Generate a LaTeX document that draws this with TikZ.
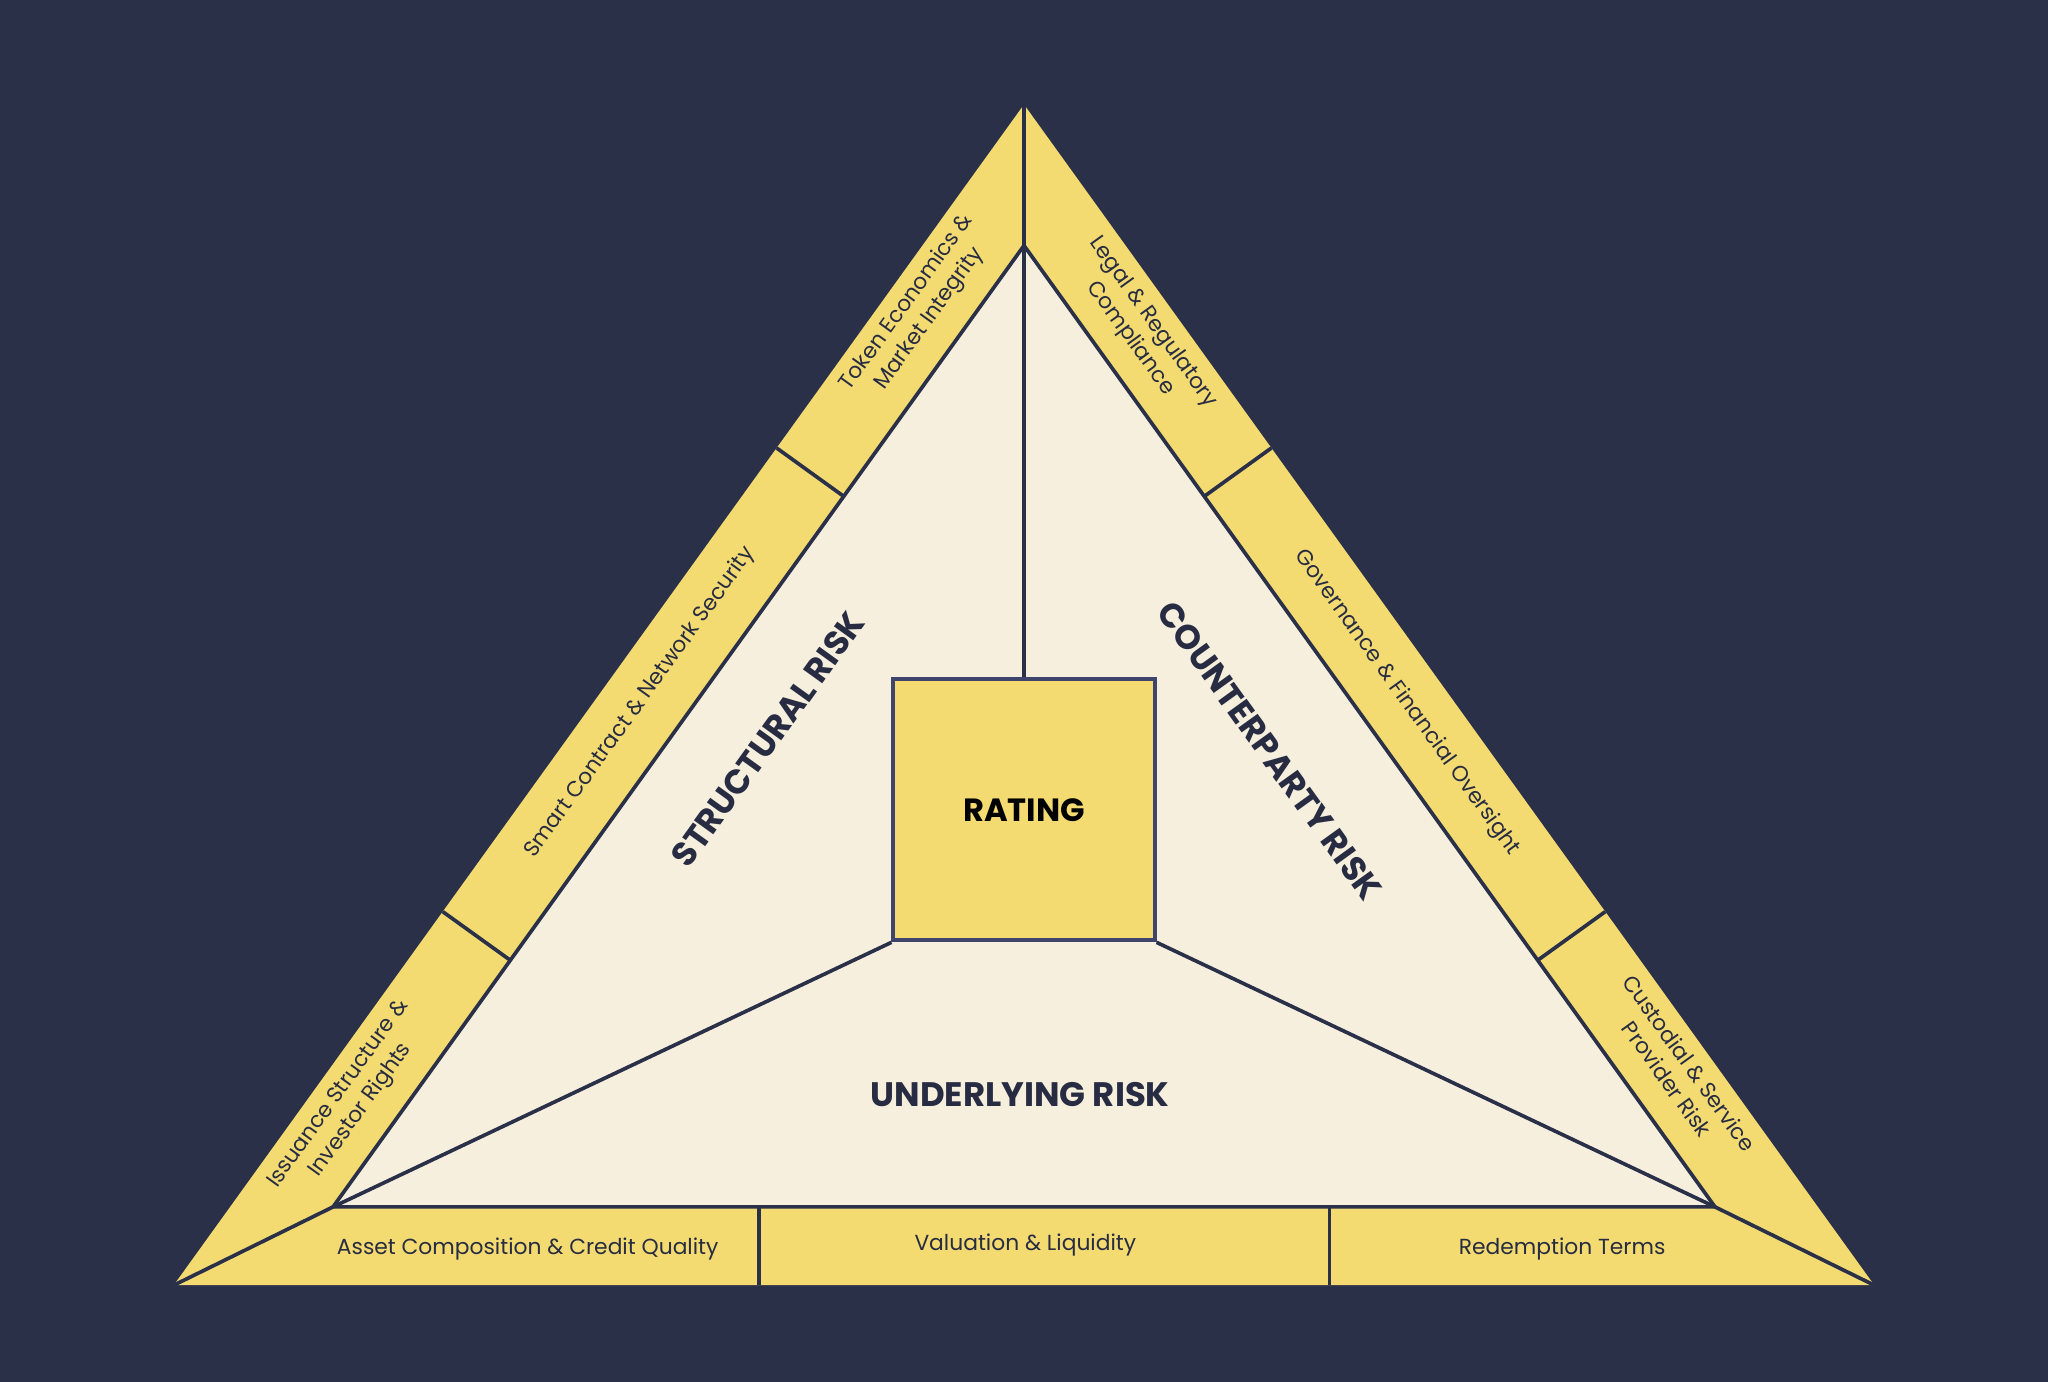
\documentclass[tikz,border=0pt]{standalone}
\usepackage{fontspec}
\setmainfont{Poppins}
\usetikzlibrary{calc,positioning}
\definecolor{RiskNavy}{RGB}{43,48,73}
\definecolor{RiskYellow}{RGB}{243,219,113}
\definecolor{RiskCream}{RGB}{246,239,222}
\definecolor{RiskInk}{RGB}{40,44,66}
\definecolor{RiskBorder}{RGB}{62,68,108}

\begin{document}
\begin{tikzpicture}[x=0.02cm,y=-0.02cm,
  edge/.style={draw=RiskNavy,line width=1.6pt,line join=miter},
  bandlbl/.style={text=RiskInk,font=\fontsize{9.5}{12}\selectfont,align=center,inner sep=0pt},
  risklbl/.style={text=RiskInk,font=\fontsize{14.8}{16}\selectfont\bfseries,inner sep=0pt}]
  \fill[RiskNavy] (0,0) rectangle (1568,1058);
  \useasboundingbox (0,0) rectangle (1568,1058);
  \coordinate (A) at (784,80);
  \coordinate (B) at (133,984);
  \coordinate (C) at (1435,984);
  \coordinate (a) at (784,188);
  \coordinate (b) at (255,924);
  \coordinate (c) at (1313,924);
  \coordinate (l1o) at (594.6,343);
  \coordinate (l1i) at (646.5,380.4);
  \coordinate (l2o) at (339,698);
  \coordinate (l2i) at (391,735.4);
  \coordinate (r1o) at (973.4,343);
  \coordinate (r1i) at (921.5,380.4);
  \coordinate (r2o) at (1229,698);
  \coordinate (r2i) at (1177,735.4);
  \coordinate (d1t) at (581,924);
  \coordinate (d1b) at (581,984);
  \coordinate (d2t) at (1018,924);
  \coordinate (d2b) at (1018,984);
  \fill[RiskYellow] (A) -- (B) -- (C) -- cycle;
  \filldraw[edge,fill=RiskCream] (a) -- (b) -- (c) -- cycle;
  \draw[edge] (B) -- (b);
  \draw[edge] (C) -- (c);
  \draw[edge] (l1o) -- (l1i);
  \draw[edge] (l2o) -- (l2i);
  \draw[edge] (r1o) -- (r1i);
  \draw[edge] (r2o) -- (r2i);
  \draw[edge] (d1t) -- (d1b);
  \draw[edge] (d2t) -- (d2b);
  \node[draw=RiskBorder,fill=RiskYellow,line width=1.7pt,minimum size=4cm,inner sep=0pt,
    font=\fontsize{14}{16}\selectfont\bfseries,text=black] (rating) at (784,620) {RATING};
  \draw[edge] (A) -- (rating.north);
  \draw[edge] (rating.south west) -- (b);
  \draw[edge] (rating.south east) -- (c);
  \node[bandlbl,rotate=54.24] (token) at (703,238) {Token Economics \&\\Market Integrity};
  \node[bandlbl,rotate=54.24] (smart) at (490,538) {Smart Contract \& Network Security};
  \node[bandlbl,rotate=54.24] (issue) at (268,844) {Issuance Structure \&\\Investor Rights};
  \node[bandlbl,rotate=-54.24] (legal) at (874,253) {Legal \& Regulatory\\Compliance};
  \node[bandlbl,rotate=-54.24] (gov) at (1077,538) {Governance \& Financial Oversight};
  \node[bandlbl,rotate=-54.24] (cust) at (1285,820) {Custodial \& Service\\Provider Risk};
  \node[bandlbl] (asset) at (404,956) {Asset Composition \& Credit Quality};
  \node[bandlbl] (value) at (785,953) {Valuation \& Liquidity};
  \node[bandlbl] (redeem) at (1196,956) {Redemption Terms};
  \node[risklbl,rotate=54.24] (struct) at (588,566) {STRUCTURAL RISK};
  \node[risklbl,rotate=-54.24] (counter) at (972,575) {COUNTERPARTY RISK};
  \node[risklbl] (under) at (781,838) {UNDERLYING RISK};
\end{tikzpicture}
\end{document}
